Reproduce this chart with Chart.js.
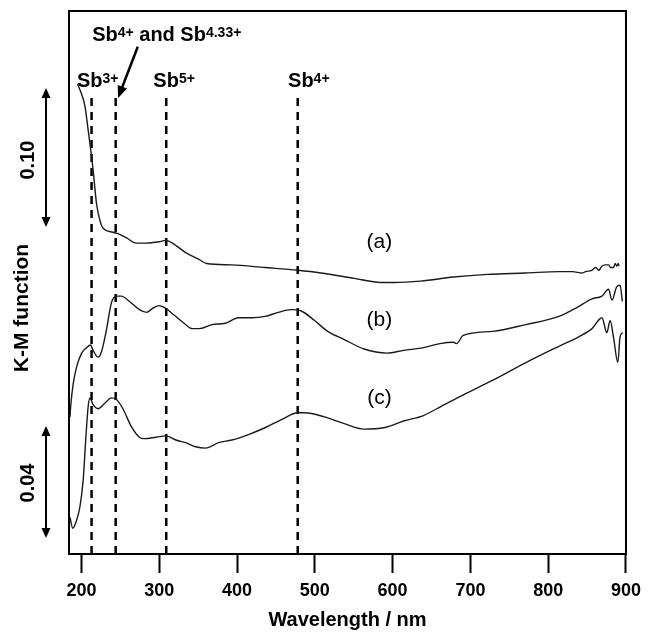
<!DOCTYPE html>
<html>
<head>
<meta charset="utf-8">
<script src="https://cdn.jsdelivr.net/npm/chart.js@4.4.0/dist/chart.umd.min.js"></script>
<style>
  html, body { margin: 0; padding: 0; background: #fff; }
</style>
</head>
<body>
<canvas id="kmChart" width="648" height="636"></canvas>
<script>
// Spectra: wavelength (nm) and offset K-M values
const waveA = [195, 200, 204.5, 208.7, 213, 215, 219.4, 223.6, 227.8, 240.5, 246.9, 257.6, 270.3, 283.1, 300, 308.5, 317, 334, 351, 361, 393, 436, 478, 508, 551, 585, 602, 636, 678, 722, 771, 814, 831, 844, 848, 856, 861, 865, 869, 873, 878, 880, 884, 886, 888, 890, 891];
const kmA   = [0.346, 0.339, 0.330, 0.312, 0.293, 0.283, 0.258, 0.246, 0.240, 0.237, 0.236, 0.233, 0.229, 0.229, 0.230, 0.231, 0.229, 0.222, 0.217, 0.214, 0.213, 0.211, 0.209, 0.207, 0.203, 0.200, 0.200, 0.201, 0.204, 0.206, 0.207, 0.208, 0.208, 0.207, 0.208, 0.209, 0.211, 0.209, 0.212, 0.213, 0.213, 0.211, 0.211, 0.214, 0.212, 0.214, 0.212];

const waveB = [185.3, 186.2, 189.6, 193.9, 200.3, 206.6, 211.7, 215, 221.4, 225.7, 232.1, 238.5, 244.8, 251.2, 261.8, 274.5, 283.8, 291.5, 300, 308.5, 319.1, 331.9, 342.4, 351, 367.9, 385, 401.9, 418.9, 435.9, 452.9, 469.8, 482.6, 499.6, 516.6, 537.8, 563.3, 593, 614.3, 639.8, 660.9, 678, 682.2, 690.7, 728.9, 771.4, 813.8, 835.1, 856.3, 869.1, 877.5, 881.9, 888.2, 892.4, 895.3];
const kmB   = [0.101, 0.109, 0.126, 0.138, 0.148, 0.152, 0.154, 0.150, 0.145, 0.149, 0.165, 0.185, 0.190, 0.190, 0.186, 0.180, 0.178, 0.181, 0.183, 0.181, 0.176, 0.170, 0.166, 0.166, 0.169, 0.170, 0.174, 0.174, 0.175, 0.178, 0.180, 0.179, 0.172, 0.164, 0.158, 0.151, 0.148, 0.150, 0.152, 0.155, 0.156, 0.155, 0.161, 0.164, 0.169, 0.175, 0.181, 0.188, 0.190, 0.195, 0.187, 0.197, 0.198, 0.186];

const waveC = [185.3, 188.8, 193.9, 198.1, 202.3, 205.7, 208.7, 210.8, 215, 221.4, 229.9, 238.5, 244.8, 253.3, 264, 274.5, 280.9, 295.8, 308.5, 321.3, 334, 346.8, 359.5, 376.4, 393.4, 414.7, 435.9, 457.1, 478.4, 486.9, 512.4, 537.8, 563.3, 588.8, 614.3, 639.8, 656.7, 686.4, 728.9, 771.4, 813.8, 839.3, 856.3, 869.1, 875.4, 879.6, 883.9, 889.5, 892.4, 895.8];
const kmC   = [0.027, 0.019, 0.025, 0.035, 0.055, 0.086, 0.109, 0.115, 0.110, 0.107, 0.111, 0.115, 0.114, 0.107, 0.094, 0.086, 0.085, 0.086, 0.087, 0.084, 0.082, 0.079, 0.078, 0.082, 0.084, 0.088, 0.093, 0.099, 0.104, 0.104, 0.101, 0.096, 0.092, 0.093, 0.098, 0.102, 0.107, 0.116, 0.128, 0.141, 0.153, 0.160, 0.166, 0.174, 0.163, 0.172, 0.160, 0.141, 0.160, 0.163];

const xTicks = [200, 300, 400, 500, 600, 700, 800, 900];
const peakLines = [213, 244, 309, 478];       // dashed marker wavelengths
const peakTop = 0.34;

const ionLabels = [
  [['Sb', false], ['3+', true]],
  [['Sb', false], ['5+', true]],
  [['Sb', false], ['4+', true]]
];
const mixLabel = [['Sb', false], ['4+', true], [' and Sb', false], ['4.33+', true]];
const sampleLabels = ['(a)', '(b)', '(c)'];
const barLabels = ['0.10', '0.04'];

const FONT = "'Liberation Sans', Arial, Helvetica, sans-serif";

// where the annotations sit, in data units unless noted
const layoutAnn = {
  ionX: [194.3, 292.4, 465.6], ionY: 0.344,
  mixX: 213.8, mixY: 0.378,
  arrowFrom: [272.4, 0.3737], arrowTo: [247.1, 0.3359],
  sampleX: 583, sampleY: [0.2298, 0.1724, 0.1149],
  barOffset: 23, barTextOffset: 41,             // px left of plot
  bars: [[0.3433, 0.2409, 0.2902], [0.0943, 0.0118, 0.0523]],
  yTitle: [22, 308]                              // px
};

function xy(w, k) {
  return w.map((v, i) => ({ x: v, y: k[i] }));
}

function drawRich(ctx, x, y, parts) {
  let cx = x;
  parts.forEach(([t, sup]) => {
    ctx.font = sup ? `bold 14px ${FONT}` : `bold 20px ${FONT}`;
    ctx.fillText(t, cx, sup ? y - 4 : y);
    cx += ctx.measureText(t).width;
  });
}

function arrowHead(ctx, tx, ty, ang, len, half) {
  ctx.beginPath();
  ctx.moveTo(tx, ty);
  ctx.lineTo(tx - len * Math.cos(ang) + half * Math.sin(ang), ty - len * Math.sin(ang) - half * Math.cos(ang));
  ctx.lineTo(tx - len * Math.cos(ang) - half * Math.sin(ang), ty - len * Math.sin(ang) + half * Math.cos(ang));
  ctx.closePath();
  ctx.fill();
}

const annotations = {
  id: 'annotations',
  afterDatasetsDraw(chart) {
    const { ctx, chartArea: a, scales: { x, y } } = chart;
    const L = layoutAnn;
    ctx.save();
    ctx.fillStyle = '#000';
    ctx.strokeStyle = '#000';

    // frame
    ctx.lineWidth = 2;
    ctx.strokeRect(a.left, a.top, a.right - a.left, a.bottom - a.top);

    // ion labels
    ctx.textAlign = 'left';
    ctx.textBaseline = 'alphabetic';
    ionLabels.forEach((parts, i) => drawRich(ctx, x.getPixelForValue(L.ionX[i]), y.getPixelForValue(L.ionY), parts));
    drawRich(ctx, x.getPixelForValue(L.mixX), y.getPixelForValue(L.mixY), mixLabel);

    // pointer arrow
    const fx = x.getPixelForValue(L.arrowFrom[0]), fy = y.getPixelForValue(L.arrowFrom[1]);
    const tx = x.getPixelForValue(L.arrowTo[0]), ty = y.getPixelForValue(L.arrowTo[1]);
    const ang = Math.atan2(ty - fy, tx - fx);
    ctx.lineWidth = 2.5;
    ctx.beginPath();
    ctx.moveTo(fx, fy);
    ctx.lineTo(tx - 8 * Math.cos(ang), ty - 8 * Math.sin(ang));
    ctx.stroke();
    arrowHead(ctx, tx, ty, ang, 12, 5);

    // sample labels
    ctx.font = `21px ${FONT}`;
    ctx.textAlign = 'center';
    ctx.textBaseline = 'middle';
    sampleLabels.forEach((t, i) => ctx.fillText(t, x.getPixelForValue(L.sampleX), y.getPixelForValue(L.sampleY[i])));

    // scale bars
    const bx = a.left - L.barOffset;
    ctx.lineWidth = 2;
    L.bars.forEach(([top, bot, mid], i) => {
      const yt = y.getPixelForValue(top), yb = y.getPixelForValue(bot);
      ctx.beginPath();
      ctx.moveTo(bx, yt + 6);
      ctx.lineTo(bx, yb - 6);
      ctx.stroke();
      arrowHead(ctx, bx, yt, -Math.PI / 2, 10, 4.5);
      arrowHead(ctx, bx, yb, Math.PI / 2, 10, 4.5);
      ctx.save();
      ctx.translate(a.left - L.barTextOffset, y.getPixelForValue(mid));
      ctx.rotate(-Math.PI / 2);
      ctx.font = `bold 20px ${FONT}`;
      ctx.fillText(barLabels[i], 0, 0);
      ctx.restore();
    });

    // y axis title
    ctx.save();
    ctx.translate(L.yTitle[0], L.yTitle[1]);
    ctx.rotate(-Math.PI / 2);
    ctx.font = `bold 21px ${FONT}`;
    ctx.fillText('K-M function', 0, 0);
    ctx.restore();

    ctx.restore();
  }
};

const curveStyle = {
  showLine: true, pointRadius: 0, borderColor: '#1a1a1a', borderWidth: 1.4,
  cubicInterpolationMode: 'monotone'
};

const datasets = [
  { label: '(a)', data: xy(waveA, kmA), ...curveStyle },
  { label: '(b)', data: xy(waveB, kmB), ...curveStyle },
  { label: '(c)', data: xy(waveC, kmC), ...curveStyle }
];

peakLines.forEach(w => {
  datasets.push({
    label: 'peak ' + w,
    data: [{ x: w, y: 0 }, { x: w, y: peakTop }],
    showLine: true, pointRadius: 0,
    borderColor: '#000', borderWidth: 2.5, borderDash: [8, 6]
  });
});

const ctx = document.getElementById('kmChart').getContext('2d');
const kmChart = new Chart(ctx, {
  type: 'scatter',
  data: { datasets },
  options: {
    responsive: false,
    devicePixelRatio: 1,
    animation: false,
    layout: { padding: { left: 69, right: 17, top: 11, bottom: 0 } },
    plugins: { legend: { display: false }, tooltip: { enabled: false } },
    scales: {
      x: {
        type: 'linear',
        min: 184,
        max: 900,
        afterBuildTicks: s => { s.ticks = xTicks.map(v => ({ value: v })); },
        afterFit: s => { s.height = 82; },
        grid: { drawOnChartArea: false, drawTicks: true, tickLength: 19, tickWidth: 2, tickColor: '#000' },
        border: { display: false },
        ticks: {
          color: '#000',
          padding: 7,
          maxRotation: 0,
          autoSkip: false,
          font: { family: FONT, size: 18, weight: 'bold' }
        },
        title: {
          display: true,
          text: 'Wavelength / nm',
          color: '#000',
          padding: { top: 0, bottom: 4 },
          font: { family: FONT, size: 20, weight: 'bold' }
        }
      },
      y: { type: 'linear', display: false, min: 0, max: 0.40 }
    }
  },
  plugins: [annotations]
});
</script>
</body>
</html>
